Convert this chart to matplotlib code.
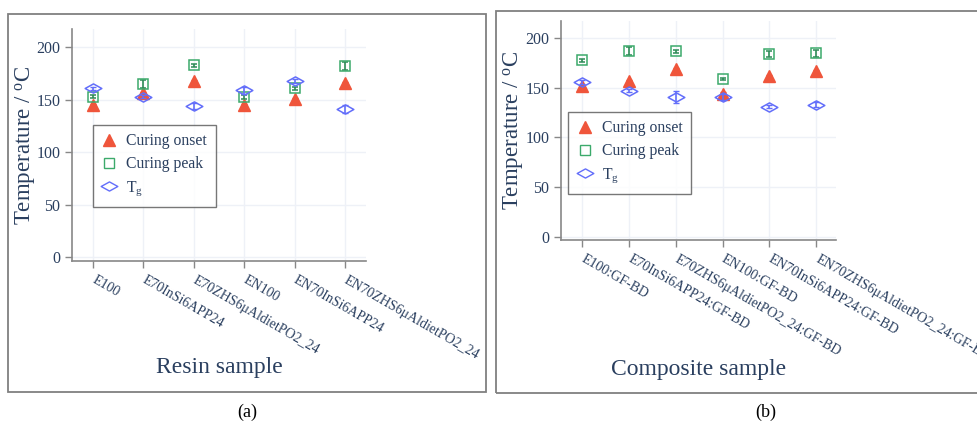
import matplotlib
matplotlib.use("Agg")
import matplotlib.pyplot as plt
from matplotlib.patches import Rectangle
from matplotlib.path import Path
from matplotlib.lines import Line2D
import numpy as np

plt.rcParams['font.family'] = ['Liberation Serif', 'DejaVu Serif']
plt.rcParams['mathtext.fontset'] = 'custom'
plt.rcParams['mathtext.rm'] = 'Liberation Serif'
plt.rcParams['mathtext.it'] = 'Liberation Serif:italic'

# ---------------- data ----------------
resin_samples = ["E100", "E70InSi6APP24", "E70ZHS6\u03bcAldietPO2_24",
                 "EN100", "EN70InSi6APP24", "EN70ZHS6\u03bcAldietPO2_24"]
resin_onset = [145, 156, 168, 145, 151, 166]
resin_onset_err = [1, 1.5, 1, 1, 1, 1]
resin_peak = [153, 165, 183, 153, 161, 182]
resin_peak_err = [1.5, 4, 1.5, 2, 1.5, 4]
resin_tg = [161, 153, 144, 159, 168, 141]
resin_tg_err = [1.5, 1.5, 3, 3.5, 2, 4]

comp_samples = ["E100:GF-BD", "E70InSi6APP24:GF-BD", "E70ZHS6\u03bcAldietPO2_24:GF-BD",
                "EN100:GF-BD", "EN70InSi6APP24:GF-BD", "EN70ZHS6\u03bcAldietPO2_24:GF-BD"]
comp_onset = [152, 157, 169, 144, 162, 167]
comp_onset_err = [1, 1, 1, 2, 1, 1]
comp_peak = [178, 187, 187, 159, 184, 185]
comp_peak_err = [1.5, 4, 1.5, 1.5, 3, 3.5]
comp_tg = [156, 147, 141, 141, 131, 133]
comp_tg_err = [2, 1.5, 6, 3, 1.5, 2.5]

series_labels = ["Curing onset", "Curing peak", "T$_\\mathrm{g}$"]

# ---------------- style ----------------
W, H = 977, 424
TXT = '#2a3f5f'
RED = '#EF553B'
GREEN = '#3CAA6B'
PURPLE = '#636EFA'
GRID = '#EEF1F7'

wide_diamond = Path([(-1, 0), (0, 0.55), (1, 0), (0, -0.55), (-1, 0)],
                    [Path.MOVETO, Path.LINETO, Path.LINETO, Path.LINETO, Path.CLOSEPOLY])

fig = plt.figure(figsize=(W / 100, H / 100), dpi=100)


def px_rect(x0, y0, x1, y1):
    return [x0 / W, 1 - y1 / H, (x1 - x0) / W, (y1 - y0) / H]


# outer frames
for (x0, y0, x1, y1) in [(8, 14, 486, 392), (496, 10.5, 1045, 392.5)]:
    r = Rectangle((x0 / W, 1 - y1 / H), (x1 - x0) / W, (y1 - y0) / H,
                  transform=fig.transFigure, fill=False, edgecolor='#808080', lw=1.3)
    fig.patches.append(r)


def panel(rect, samples, onset, onset_err, peak, peak_err, tg, tg_err,
          ylim, xlim, leg_xy, xlabel, xlabel_y, ylabel_xy):
    ax = fig.add_axes(rect)
    x = np.arange(len(samples))
    ax.errorbar(x, onset, yerr=onset_err, fmt='^', color=RED, ms=9, mec=RED, mfc=RED,
                ecolor=RED, elinewidth=1.2, capsize=2.5, zorder=3)
    ax.errorbar(x, peak, yerr=peak_err, fmt='s', color=GREEN, ms=7.5, mfc='none', mec=GREEN,
                mew=1.1, ecolor='#2E8B57', elinewidth=1.2, capsize=2.5, zorder=4)
    ax.errorbar(x, tg, yerr=tg_err, fmt='none', ecolor=PURPLE, elinewidth=1.2, capsize=2.5,
                zorder=5)
    ax.plot(x, tg, linestyle='none', marker=wide_diamond, ms=12, mfc='none', mec=PURPLE,
            mew=1.1, zorder=5)
    ax.set_xlim(*xlim)
    ax.set_ylim(*ylim)
    ax.set_xticks(x)
    ax.set_xticklabels(samples, rotation=-30, ha='left', va='center',
                       rotation_mode='anchor', fontsize=10, color=TXT)
    ax.set_yticks([0, 50, 100, 150, 200])
    ax.tick_params(axis='y', labelsize=11.5, labelcolor=TXT, color='#888888', length=5,
                   width=1)
    ax.tick_params(axis='x', color='#888888', length=5, width=1, pad=8)
    for s in ['top', 'right']:
        ax.spines[s].set_visible(False)
    for s in ['left', 'bottom']:
        ax.spines[s].set_color('#888888')
        ax.spines[s].set_linewidth(1.2)
    ax.grid(True, color=GRID, lw=1)
    ax.set_axisbelow(True)
    handles = [
        Line2D([], [], ls='none', marker='^', ms=8, color=RED),
        Line2D([], [], ls='none', marker='s', ms=7, mfc='none', mec=GREEN, mew=1),
        Line2D([], [], ls='none', marker=wide_diamond, ms=12, mfc='none', mec=PURPLE, mew=1),
    ]
    leg = ax.legend(handles, series_labels,
                    loc='upper left', bbox_to_anchor=(leg_xy[0] / W, 1 - leg_xy[1] / H),
                    bbox_transform=fig.transFigure, borderaxespad=0, frameon=True,
                    fancybox=False, edgecolor='#555555', fontsize=11.3, labelcolor=TXT,
                    handlelength=1.0, handletextpad=0.6, borderpad=0.55, labelspacing=0.45)
    leg.get_frame().set_linewidth(1.0)
    fig.text((rect[0] + rect[2] / 2), 1 - xlabel_y / H, xlabel, ha='center', va='center',
             fontsize=17, color=TXT)
    fig.text(ylabel_xy[0] / W, 1 - ylabel_xy[1] / H, "Temperature / $^\\mathrm{o}$C",
             rotation=90, ha='center', va='center', fontsize=16.5, color=TXT)
    return ax


panel(px_rect(72, 29, 366, 261), resin_samples, resin_onset, resin_onset_err,
      resin_peak, resin_peak_err, resin_tg, resin_tg_err,
      (-3.5, 217.4), (-0.42, 5.42), (92.7, 124.7), "Resin sample", 367, (25, 145))

panel(px_rect(561.3, 21, 836, 240), comp_samples, comp_onset, comp_onset_err,
      comp_peak, comp_peak_err, comp_tg, comp_tg_err,
      (-3.4, 217.5), (-0.44, 5.42), (568.3, 111.7), "Composite sample", 370, (514, 130))

fig.text(247 / W, 1 - 412 / H, "(a)", ha='center', va='center', fontsize=13, color='black')
fig.text(766 / W, 1 - 412 / H, "(b)", ha='center', va='center', fontsize=13, color='black')

fig.savefig("out.png", dpi=100)
